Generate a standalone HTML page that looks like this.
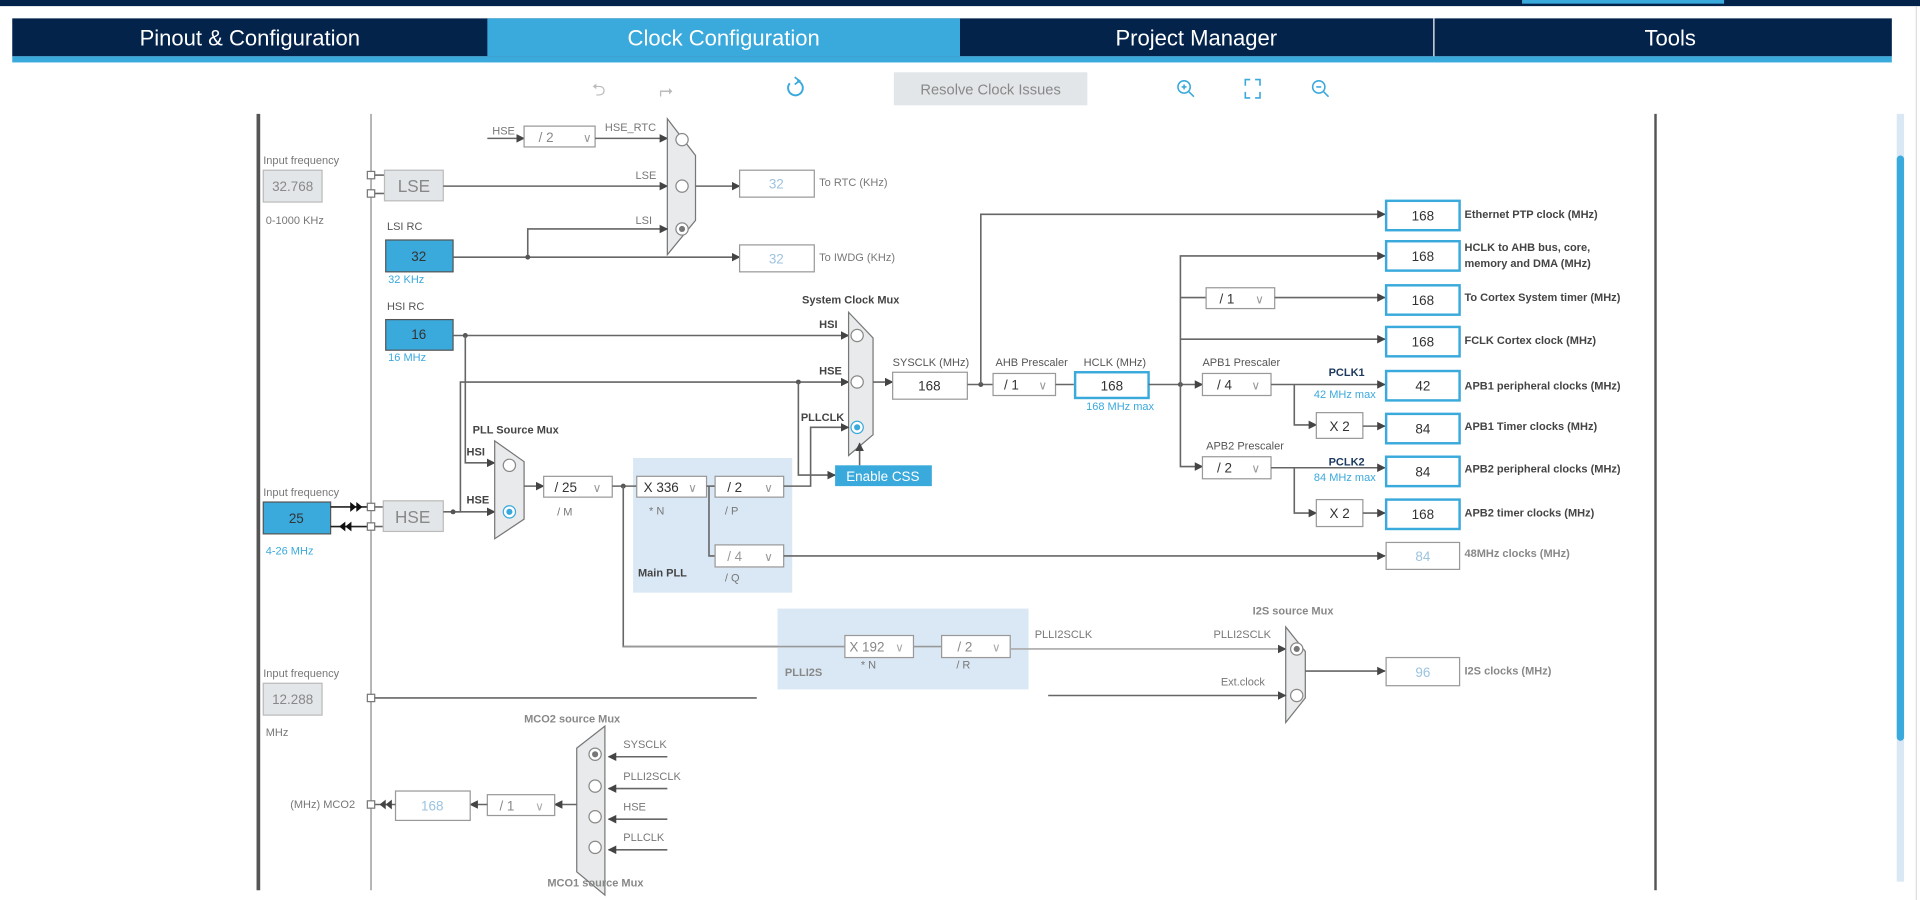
<!DOCTYPE html>
<html><head><meta charset="utf-8"><style>
html,body{margin:0;padding:0;background:#fff;width:1920px;height:900px;overflow:hidden}
svg{display:block}
text{font-family:"Liberation Sans",sans-serif}
.l{font-size:9px;fill:#777}
.b{font-size:9px;fill:#444;font-weight:bold}
.bl{font-size:9px;fill:#3aa9dc}
.v{font-size:11px;fill:#333;text-anchor:middle}
.vl{font-size:11px;fill:#9cc3e0;text-anchor:middle}
.w{stroke:#666;stroke-width:1.3;fill:none}
.bx{fill:#fff;stroke:#999;stroke-width:1}
.ob{fill:#fff;stroke:#3aa9dc;stroke-width:2}
.gb{fill:#e3e6e8;stroke:#bbb;stroke-width:1}
.blu{fill:#3aa9dc;stroke:#555;stroke-width:1}
.mux{fill:#e8eaec;stroke:#777;stroke-width:1}
.c{fill:#fff;stroke:#888;stroke-width:1}
</style></head><body>
<svg width="1920" height="900" viewBox="0 0 1568 735" xmlns="http://www.w3.org/2000/svg">
<defs>
<marker id="a" viewBox="0 0 10 10" refX="9" refY="5" markerWidth="7" markerHeight="7" orient="auto-start-reverse" markerUnits="userSpaceOnUse"><path d="M0,0L10,5L0,10z" fill="#444"/></marker>
</defs>
<!-- top bar -->
<rect x="0" y="0" width="1568" height="5" fill="#03234b"/>
<rect x="1243" y="0" width="165" height="3" fill="#3aa9dc"/>
<rect x="10" y="15" width="1535" height="31" fill="#03234b"/>
<rect x="398" y="15" width="386" height="31" fill="#3aa9dc"/>
<line x1="1171" y1="15" x2="1171" y2="46" stroke="#fff" stroke-width="1"/>
<rect x="10" y="46" width="1535" height="5" fill="#3aa9dc"/>
<text x="204" y="37" font-size="18" fill="#fff" text-anchor="middle">Pinout &amp; Configuration</text>
<text x="591" y="37" font-size="18" fill="#fff" text-anchor="middle">Clock Configuration</text>
<text x="977" y="37" font-size="18" fill="#fff" text-anchor="middle">Project Manager</text>
<text x="1364" y="37" font-size="18" fill="#fff" text-anchor="middle">Tools</text>
<line x1="1565" y1="5" x2="1565" y2="735" stroke="#ddd"/>
<!-- toolbar -->
<text x="489" y="78" font-size="14" fill="#bbb" text-anchor="middle">⮌</text>
<text x="544" y="78" font-size="14" fill="#bbb" text-anchor="middle">⮣</text>
<path d="M645,68 A6,6 0 1 0 651,66" stroke="#3aa9dc" stroke-width="1.6" fill="none"/>
<path d="M649,63 L653,66 L649,69" stroke="#3aa9dc" stroke-width="1.4" fill="none"/>
<rect x="730" y="59" width="158" height="27" fill="#e3e6e8"/>
<text x="809" y="77" font-size="12" fill="#888" text-anchor="middle">Resolve Clock Issues</text>
<g stroke="#3aa9dc" stroke-width="1.3" fill="none">
<circle cx="967" cy="71" r="5"/><line x1="971" y1="75" x2="975" y2="79"/><line x1="965" y1="71" x2="969" y2="71"/><line x1="967" y1="69" x2="967" y2="73"/>
<path d="M1017,70v-5h4M1025,65h4v5M1029,75v5h-4M1021,80h-4v-5"/>
<circle cx="1077" cy="71" r="5"/><line x1="1081" y1="75" x2="1085" y2="79"/><line x1="1075" y1="71" x2="1079" y2="71"/>
</g>
<!-- frame -->
<line x1="211" y1="93" x2="211" y2="727" stroke="#555" stroke-width="3"/>
<line x1="1352" y1="93" x2="1352" y2="727" stroke="#555" stroke-width="2"/>
<line x1="303" y1="93" x2="303" y2="727" stroke="#888" stroke-width="1"/>
<rect x="1549" y="93" width="6" height="627" fill="#dae8f5"/>
<rect x="1549" y="127" width="6" height="478" rx="3" fill="#3aa9dc"/>

<!-- LSE -->
<text class="l" x="215" y="134">Input frequency</text>
<rect class="gb" x="215" y="139" width="48" height="26"/><text class="v" x="239" y="156" fill="#888" style="fill:#888">32.768</text>
<text class="l" x="217" y="183">0-1000 KHz</text>
<rect x="300" y="140" width="6" height="6" fill="#fff" stroke="#777"/><rect x="300" y="155" width="6" height="6" fill="#fff" stroke="#777"/>
<line class="w" x1="306" y1="143" x2="314" y2="143"/><line class="w" x1="306" y1="158" x2="314" y2="158"/>
<rect class="gb" x="314" y="139" width="48" height="25"/><text x="338" y="157" font-size="14" fill="#888" text-anchor="middle">LSE</text>
<line class="w" x1="362" y1="152" x2="545" y2="152" marker-end="url(#a)"/><text class="l" x="519" y="146">LSE</text>
<text class="l" x="402" y="110">HSE</text>
<line class="w" x1="398" y1="113" x2="428" y2="113" marker-end="url(#a)"/>
<rect class="bx" x="428" y="103" width="58" height="17"/><text class="v" x="446" y="116" style="fill:#888">/ 2</text><text x="476" y="116" font-size="10" fill="#999">∨</text>
<line class="w" x1="486" y1="113" x2="545" y2="113" marker-end="url(#a)"/><text class="l" x="494" y="107">HSE_RTC</text>
<polygon class="mux" points="545,97 568,127 568,180 545,208"/>
<circle class="c" cx="557" cy="114" r="5"/><circle class="c" cx="557" cy="152" r="5"/><circle class="c" cx="557" cy="187" r="5"/><circle cx="557" cy="187" r="2.5" fill="#777"/>
<text class="l" x="519" y="183">LSI</text>
<path class="w" d="M431,210V187H545" marker-end="url(#a)"/>
<line class="w" x1="568" y1="152" x2="604" y2="152" marker-end="url(#a)"/>
<rect class="bx" x="604" y="139" width="61" height="22"/><text class="vl" x="634" y="154">32</text>
<text class="l" x="669" y="152">To RTC (KHz)</text>
<!-- LSI -->
<text class="b" x="316" y="188" style="fill:#555;font-weight:normal">LSI RC</text>
<rect class="blu" x="315" y="196" width="55" height="26"/><text class="v" x="342" y="213">32</text>
<text class="bl" x="317" y="231">32 KHz</text>
<line class="w" x1="370" y1="210" x2="604" y2="210" marker-end="url(#a)"/><circle cx="431" cy="210" r="2" fill="#555"/>
<rect class="bx" x="604" y="200" width="61" height="22"/><text class="vl" x="634" y="215">32</text>
<text class="l" x="669" y="213">To IWDG (KHz)</text>
<!-- HSI -->
<text class="l" x="316" y="253" style="fill:#555">HSI RC</text>
<rect class="blu" x="315" y="261" width="55" height="25"/><text class="v" x="342" y="277">16</text>
<text class="bl" x="317" y="295">16 MHz</text>
<line class="w" x1="370" y1="274" x2="693" y2="274" marker-end="url(#a)"/><circle cx="380" cy="274" r="2" fill="#555"/>
<path class="w" d="M380,274V378H404" marker-end="url(#a)"/>
<path class="w" d="M370,418H376V312H693" marker-end="url(#a)"/>
<text class="b" x="669" y="268">HSI</text><text class="b" x="669" y="306">HSE</text><text class="b" x="654" y="344">PLLCLK</text>
<text class="b" x="655" y="248">System Clock Mux</text>
<polygon class="mux" points="693,255 713,276 713,355 693,372"/>
<circle class="c" cx="700" cy="274" r="5"/><circle class="c" cx="700" cy="312" r="5"/>
<circle cx="700" cy="349" r="5" fill="#fff" stroke="#3aa9dc"/><circle cx="700" cy="349" r="2.5" fill="#3aa9dc"/>
<!-- HSE input -->
<text class="l" x="215" y="405">Input frequency</text>
<rect class="blu" x="215" y="410" width="55" height="26"/><text class="v" x="242" y="427">25</text>
<text class="bl" x="217" y="453">4-26 MHz</text>
<line x1="270" y1="414" x2="300" y2="414" stroke="#222" stroke-width="1.3"/>
<path d="M286,410l5,4l-5,4zM291,410l5,4l-5,4z" fill="#111"/>
<line x1="270" y1="430" x2="300" y2="430" stroke="#222" stroke-width="1.3"/>
<path d="M282,426l-5,4l5,4zM287,426l-5,4l5,4z" fill="#111"/>
<rect x="300" y="411" width="6" height="6" fill="#fff" stroke="#777"/><rect x="300" y="427" width="6" height="6" fill="#fff" stroke="#777"/>
<line class="w" x1="306" y1="414" x2="313" y2="414"/><line class="w" x1="306" y1="430" x2="313" y2="430"/>
<rect class="gb" x="313" y="409" width="49" height="25"/><text x="337" y="427" font-size="14" fill="#888" text-anchor="middle">HSE</text>
<line class="w" x1="362" y1="418" x2="404" y2="418" marker-end="url(#a)"/><circle cx="370" cy="418" r="2" fill="#555"/>
<text class="b" x="386" y="354">PLL Source Mux</text>
<text class="b" x="381" y="372">HSI</text><text class="b" x="381" y="411">HSE</text>
<polygon class="mux" points="404,360 428,377 428,424 404,440"/>
<circle class="c" cx="416" cy="380" r="5"/>
<circle cx="416" cy="418" r="5" fill="#fff" stroke="#3aa9dc"/><circle cx="416" cy="418" r="2.5" fill="#3aa9dc"/>
<line class="w" x1="428" y1="397" x2="444" y2="397" marker-end="url(#a)"/>
<rect class="bx" x="444" y="389" width="56" height="17"/><text class="v" x="462" y="402">/ 25</text><text x="484" y="402" font-size="10" fill="#999">∨</text>
<text class="l" x="455" y="421">/ M</text>
<!-- main PLL -->
<rect x="517" y="374" width="130" height="110" fill="#dae8f5"/>
<line class="w" x1="500" y1="397" x2="520" y2="397"/><circle cx="509" cy="397" r="2" fill="#555"/>
<path class="w" d="M509,397V528H690"/>
<rect class="bx" x="520" y="389" width="57" height="17"/><text class="v" x="540" y="402">X 336</text><text x="562" y="402" font-size="10" fill="#999">∨</text>
<text class="l" x="530" y="420">* N</text>
<line class="w" x1="577" y1="397" x2="584" y2="397"/>
<path class="w" d="M579,397V454H584"/>
<rect class="bx" x="584" y="389" width="56" height="17"/><text class="v" x="600" y="402">/ 2</text><text x="624" y="402" font-size="10" fill="#999">∨</text>
<text class="l" x="592" y="420">/ P</text>
<rect class="bx" x="584" y="445" width="56" height="18"/><text class="v" x="600" y="458" style="fill:#999">/ 4</text><text x="624" y="458" font-size="10" fill="#999">∨</text>
<text class="l" x="592" y="475">/ Q</text>
<text class="b" x="521" y="471">Main PLL</text>
<path class="w" d="M640,397H662V349H693" marker-end="url(#a)"/>
<circle cx="652" cy="312" r="2" fill="#555"/>
<path class="w" d="M652,312V388H682" marker-end="url(#a)"/>
<rect x="682" y="380" width="79" height="17" fill="#3aa9dc"/>
<text x="721" y="393" font-size="11" fill="#fff" text-anchor="middle">Enable CSS</text>
<line class="w" x1="702" y1="380" x2="702" y2="362" marker-end="url(#a)"/>
<line class="w" x1="640" y1="454" x2="1131" y2="454" marker-end="url(#a)"/>
<!-- SYSCLK -->
<line class="w" x1="713" y1="312" x2="729" y2="312" marker-end="url(#a)"/>
<text class="l" x="729" y="299" style="fill:#555">SYSCLK (MHz)</text>
<rect class="bx" x="729" y="304" width="61" height="22"/><text class="v" x="759" y="319">168</text>
<line class="w" x1="790" y1="314" x2="811" y2="314"/><circle cx="801" cy="314" r="2" fill="#555"/>
<path class="w" d="M801,314V175H1131" marker-end="url(#a)"/>
<text class="l" x="813" y="299" style="fill:#555">AHB Prescaler</text>
<rect class="bx" x="811" y="305" width="51" height="18"/><text class="v" x="826" y="318">/ 1</text><text x="848" y="318" font-size="10" fill="#999">∨</text>
<line class="w" x1="862" y1="314" x2="877" y2="314"/>
<text class="l" x="885" y="299" style="fill:#555">HCLK (MHz)</text>
<rect class="ob" x="878" y="304" width="60" height="21"/><text class="v" x="908" y="319">168</text>
<text class="bl" x="887" y="335">168 MHz max</text>
<line class="w" x1="938" y1="314" x2="982" y2="314" marker-end="url(#a)"/><circle cx="964" cy="314" r="2" fill="#555"/>
<path class="w" d="M964,314V209H1131" marker-end="url(#a)"/>
<path class="w" d="M964,314V381H982" marker-end="url(#a)"/>
<line class="w" x1="964" y1="243" x2="985" y2="243"/>
<rect class="bx" x="985" y="235" width="56" height="17"/><text class="v" x="1002" y="248">/ 1</text><text x="1025" y="248" font-size="10" fill="#999">∨</text>
<line class="w" x1="1041" y1="243" x2="1131" y2="243" marker-end="url(#a)"/>
<line class="w" x1="964" y1="277" x2="1131" y2="277" marker-end="url(#a)"/>
<text class="l" x="982" y="299" style="fill:#555">APB1 Prescaler</text>
<rect class="bx" x="982" y="305" width="56" height="18"/><text class="v" x="1000" y="318">/ 4</text><text x="1022" y="318" font-size="10" fill="#999">∨</text>
<line class="w" x1="1038" y1="314" x2="1131" y2="314" marker-end="url(#a)"/>
<text class="b" x="1085" y="307" style="fill:#1d3a5e">PCLK1</text><text class="bl" x="1073" y="325">42 MHz max</text>
<path class="w" d="M1057,314V347H1075" marker-end="url(#a)"/>
<rect class="bx" x="1075" y="337" width="38" height="21"/><text class="v" x="1094" y="352">X 2</text>
<line class="w" x1="1113" y1="348" x2="1131" y2="348" marker-end="url(#a)"/>
<text class="l" x="985" y="367" style="fill:#555">APB2 Prescaler</text>
<rect class="bx" x="982" y="373" width="56" height="18"/><text class="v" x="1000" y="386">/ 2</text><text x="1022" y="386" font-size="10" fill="#999">∨</text>
<line class="w" x1="1038" y1="382" x2="1131" y2="382" marker-end="url(#a)"/>
<text class="b" x="1085" y="380" style="fill:#1d3a5e">PCLK2</text><text class="bl" x="1073" y="393">84 MHz max</text>
<path class="w" d="M1057,382V419H1075" marker-end="url(#a)"/>
<rect class="bx" x="1075" y="408" width="38" height="22"/><text class="v" x="1094" y="423">X 2</text>
<line class="w" x1="1113" y1="419" x2="1131" y2="419" marker-end="url(#a)"/>
<!-- outputs -->
<rect class="ob" x="1132" y="164" width="60" height="24"/><text class="v" x="1162" y="180">168</text><text class="b" x="1196" y="178">Ethernet PTP clock (MHz)</text>
<rect class="ob" x="1132" y="197" width="60" height="24"/><text class="v" x="1162" y="213">168</text><text class="b" x="1196" y="205">HCLK to AHB bus, core,</text><text class="b" x="1196" y="218">memory and DMA (MHz)</text>
<rect class="ob" x="1132" y="233" width="60" height="24"/><text class="v" x="1162" y="249">168</text><text class="b" x="1196" y="246">To Cortex System timer (MHz)</text>
<rect class="ob" x="1132" y="267" width="60" height="24"/><text class="v" x="1162" y="283">168</text><text class="b" x="1196" y="281">FCLK Cortex clock (MHz)</text>
<rect class="ob" x="1132" y="303" width="60" height="24"/><text class="v" x="1162" y="319">42</text><text class="b" x="1196" y="318">APB1 peripheral clocks (MHz)</text>
<rect class="ob" x="1132" y="338" width="60" height="24"/><text class="v" x="1162" y="354">84</text><text class="b" x="1196" y="351">APB1 Timer clocks (MHz)</text>
<rect class="ob" x="1132" y="373" width="60" height="24"/><text class="v" x="1162" y="389">84</text><text class="b" x="1196" y="386">APB2 peripheral clocks (MHz)</text>
<rect class="ob" x="1132" y="408" width="60" height="24"/><text class="v" x="1162" y="424">168</text><text class="b" x="1196" y="422">APB2 timer clocks (MHz)</text>
<rect class="bx" x="1132" y="443" width="60" height="22"/><text class="vl" x="1162" y="458">84</text><text class="b" x="1196" y="455" style="fill:#888">48MHz clocks (MHz)</text>
<!-- PLLI2S -->
<rect x="635" y="497" width="205" height="66" fill="#dae8f5"/>
<line class="w" x1="509" y1="528" x2="690" y2="528" style="stroke:#999"/>
<rect class="bx" x="690" y="519" width="56" height="18"/><text class="v" x="708" y="532" style="fill:#888">X 192</text><text x="731" y="532" font-size="10" fill="#aaa">∨</text>
<text class="l" x="703" y="546">* N</text>
<line class="w" x1="746" y1="528" x2="769" y2="528" style="stroke:#999"/>
<rect class="bx" x="769" y="519" width="56" height="18"/><text class="v" x="788" y="532" style="fill:#888">/ 2</text><text x="810" y="532" font-size="10" fill="#aaa">∨</text>
<text class="l" x="781" y="546">/ R</text>
<text class="b" x="641" y="552" style="fill:#888">PLLI2S</text>
<line class="w" x1="825" y1="530" x2="1050" y2="530" style="stroke:#aaa" marker-end="url(#a)"/>
<text class="l" x="845" y="521">PLLI2SCLK</text><text class="l" x="991" y="521">PLLI2SCLK</text>
<text class="b" x="1023" y="502" style="fill:#888">I2S source Mux</text>
<polygon class="mux" points="1050,512 1066,532 1066,570 1050,590"/>
<circle class="c" cx="1059" cy="530" r="5"/><circle cx="1059" cy="530" r="2.5" fill="#777"/><circle class="c" cx="1059" cy="568" r="5"/>
<text class="l" x="997" y="560">Ext.clock</text>
<line class="w" x1="856" y1="568" x2="1050" y2="568" marker-end="url(#a)"/>
<line class="w" x1="1066" y1="548" x2="1131" y2="548" marker-end="url(#a)"/>
<rect class="bx" x="1132" y="537" width="60" height="23"/><text class="vl" x="1162" y="553">96</text><text class="b" x="1196" y="551" style="fill:#888">I2S clocks (MHz)</text>
<!-- 12.288 -->
<text class="l" x="215" y="553">Input frequency</text>
<rect class="gb" x="215" y="558" width="48" height="26"/><text class="v" x="239" y="575" style="fill:#888">12.288</text>
<text class="l" x="217" y="601">MHz</text>
<rect x="300" y="567" width="6" height="6" fill="#fff" stroke="#777"/>
<line class="w" x1="306" y1="570" x2="618" y2="570"/>
<!-- MCO -->
<text class="b" x="428" y="590" style="fill:#888">MCO2 source Mux</text>
<polygon class="mux" points="471,611 494,593 494,731 471,712"/>
<circle class="c" cx="486" cy="616" r="5"/><circle cx="486" cy="616" r="2.5" fill="#777"/>
<circle class="c" cx="486" cy="642" r="5"/><circle class="c" cx="486" cy="667" r="5"/><circle class="c" cx="486" cy="692" r="5"/>
<line class="w" x1="545" y1="618" x2="497" y2="618" marker-end="url(#a)"/><text class="l" x="509" y="611">SYSCLK</text>
<line class="w" x1="545" y1="644" x2="497" y2="644" marker-end="url(#a)"/><text class="l" x="509" y="637">PLLI2SCLK</text>
<line class="w" x1="545" y1="669" x2="497" y2="669" marker-end="url(#a)"/><text class="l" x="509" y="662">HSE</text>
<line class="w" x1="545" y1="694" x2="497" y2="694" marker-end="url(#a)"/><text class="l" x="509" y="687">PLLCLK</text>
<text class="b" x="447" y="724" style="fill:#888">MCO1 source Mux</text>
<line class="w" x1="471" y1="657" x2="453" y2="657" marker-end="url(#a)"/>
<rect class="bx" x="398" y="649" width="55" height="17"/><text class="v" x="414" y="662" style="fill:#888">/ 1</text><text x="437" y="662" font-size="10" fill="#aaa">∨</text>
<line class="w" x1="398" y1="657" x2="384" y2="657" marker-end="url(#a)"/>
<rect class="bx" x="323" y="646" width="61" height="24"/><text class="vl" x="353" y="662">168</text>
<line class="w" x1="323" y1="657" x2="306" y2="657"/>
<path d="M315,653l-5,4l5,4zM320,653l-5,4l5,4z" fill="#444"/>
<rect x="300" y="654" width="6" height="6" fill="#fff" stroke="#777"/>
<text class="l" x="237" y="660">(MHz) MCO2</text>
</svg>
</body></html>
